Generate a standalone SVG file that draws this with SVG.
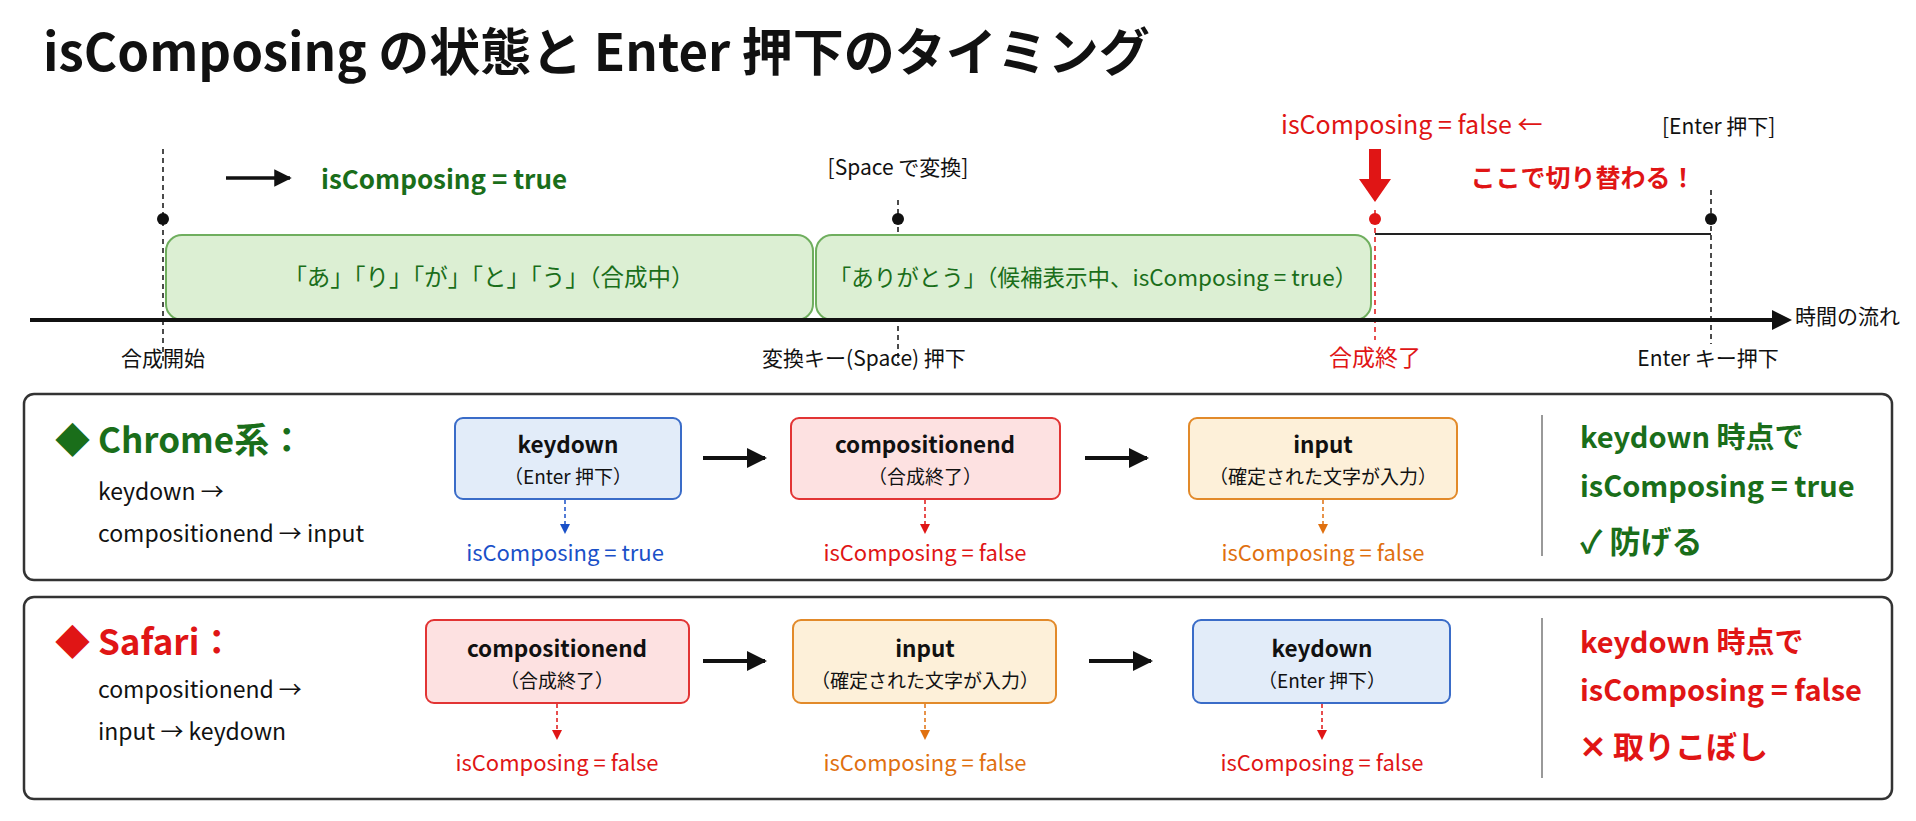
<svg xmlns="http://www.w3.org/2000/svg" width="1916" height="821" viewBox="0 0 1916 821">
<style>
text{font-family:"Noto Sans CJK JP","Noto Sans",sans-serif;}
.t{font-size:21px;fill:#111;}
.lt{font-size:23px;fill:#111;}
.g{fill:#1a6e1a;}
.r{fill:#e01515;}
.b{fill:#1a50c8;}
.o{fill:#e0700f;}
.bold{font-weight:bold;}
.dash{stroke:#111;stroke-width:1.5;stroke-dasharray:5 4;fill:none;}
.seg{fill:#dcefd3;stroke:#6fae5e;stroke-width:2;}
.panel{fill:#fff;stroke:#333;stroke-width:2.5;}
.nb{fill:#e2ecf9;stroke:#3a6cc8;stroke-width:2;}
.nr{fill:#fde1e1;stroke:#e23434;stroke-width:2;}
.no{fill:#fdf0d9;stroke:#e28a2a;stroke-width:2;}
.nt{font-size:22.5px;font-weight:bold;fill:#111;text-anchor:middle;}
.ns{font-size:19px;fill:#111;text-anchor:middle;}
.lab{font-size:22px;text-anchor:middle;}
</style>
<defs>
<marker id="ah" viewBox="0 0 10 10" refX="9" refY="5" markerWidth="5" markerHeight="5" orient="auto"><path d="M0,0L10,5L0,10z" fill="#111"/></marker>
<marker id="ahb" viewBox="0 0 10 10" refX="9" refY="5" markerWidth="7" markerHeight="7" orient="auto"><path d="M0,0L10,5L0,10z" fill="#1a50c8"/></marker>
<marker id="ahr" viewBox="0 0 10 10" refX="9" refY="5" markerWidth="7" markerHeight="7" orient="auto"><path d="M0,0L10,5L0,10z" fill="#e01515"/></marker>
<marker id="aho" viewBox="0 0 10 10" refX="9" refY="5" markerWidth="7" markerHeight="7" orient="auto"><path d="M0,0L10,5L0,10z" fill="#e0700f"/></marker>
</defs>
<rect width="1916" height="821" fill="#fff"/>
<text x="43" y="71" font-size="51" font-weight="bold" fill="#111">isComposing の状態と Enter 押下のタイミング</text>

<g id="timeline">
<path class="dash" d="M163 149V364M898 200V364M1711 190V344"/>
<path d="M1375 210V340" stroke="#e01515" stroke-width="1.5" stroke-dasharray="5 4"/>
<rect id="seg1" class="seg" x="166" y="235" width="647" height="85" rx="16"/>
<rect id="seg2" class="seg" x="816" y="235" width="555" height="85" rx="16"/>
<text x="489" y="286" font-size="23.5" text-anchor="middle" class="g">「あ」「り」「が」「と」「う」（合成中）</text>
<text x="1093" y="286" font-size="22.5" text-anchor="middle" class="g">「ありがとう」（候補表示中、isComposing = true）</text>
<line x1="1375" y1="234" x2="1711" y2="234" stroke="#222" stroke-width="2"/>
<line x1="30" y1="320" x2="1782" y2="320" stroke="#111" stroke-width="4"/>
<path d="M1772 310L1792 320L1772 330z" fill="#111"/>
<circle cx="163" cy="219" r="6" fill="#111"/>
<circle cx="898" cy="219" r="6" fill="#111"/>
<circle cx="1375" cy="219" r="6" fill="#e01515"/>
<circle cx="1711" cy="219" r="6" fill="#111"/>
<text x="1795" y="324" class="t">時間の流れ</text>
<text x="163" y="366" class="t" text-anchor="middle">合成開始</text>
<text x="864" y="366" class="t" text-anchor="middle">変換キー(Space) 押下</text>
<text x="1375" y="366" font-size="23" class="r" text-anchor="middle">合成終了</text>
<text x="1708" y="366" class="t" text-anchor="middle">Enter キー押下</text>
<text x="898" y="175" class="t" text-anchor="middle">[Space で変換]</text>
<line x1="226" y1="178" x2="290" y2="178" stroke="#111" stroke-width="3.5" marker-end="url(#ah)"/>
<text x="321" y="189" font-size="26" class="g bold">isComposing = true</text>
<text x="1281" y="134" font-size="25" class="r">isComposing = false ←</text>
<text x="1662" y="134" class="t">[Enter 押下]</text>
<path d="M1369 149h12v30h10l-16 23l-16-23h10z" fill="#e01515"/>
<text x="1583" y="187" font-size="25" class="r bold" text-anchor="middle">ここで切り替わる！</text>
</g>

<g id="chrome">
<rect class="panel" x="24" y="394" width="1868" height="186" rx="10"/>
<text x="55" y="453" font-size="35" class="g bold">◆ Chrome系：</text>
<text x="98" y="500" class="lt">keydown →</text>
<text x="98" y="542" class="lt">compositionend → input</text>
<line x1="1542" y1="415" x2="1542" y2="556" stroke="#999" stroke-width="2"/>
<text x="1580" y="448" font-size="29" class="g bold">keydown 時点で</text>
<text x="1580" y="497" font-size="29" class="g bold">isComposing = true</text>
<text x="1580" y="553" font-size="31" class="g bold">✓  防げる</text>
</g>
<g id="c1"><rect class="nb" x="455" y="418" width="226" height="81" rx="8"/><text class="nt" x="568" y="453">keydown</text><text class="ns" x="568" y="484">（Enter 押下）</text></g>
<g id="c2"><rect class="nr" x="791" y="418" width="269" height="81" rx="8"/><text class="nt" x="925" y="453">compositionend</text><text class="ns" x="925" y="484">（合成終了）</text></g>
<g id="c3"><rect class="no" x="1189" y="418" width="268" height="81" rx="8"/><text class="nt" x="1323" y="453">input</text><text class="ns" x="1323" y="484">（確定された文字が入力）</text></g>
<text class="lab b" x="565" y="561">isComposing = true</text>
<text class="lab r" x="925" y="561">isComposing = false</text>
<text class="lab o" x="1323" y="561">isComposing = false</text>

<g id="safari">
<rect class="panel" x="24" y="597" width="1868" height="202" rx="10"/>
<text x="55" y="655" font-size="35" class="r bold">◆ Safari：</text>
<text x="98" y="698" class="lt">compositionend →</text>
<text x="98" y="740" class="lt">input → keydown</text>
<line x1="1542" y1="618" x2="1542" y2="778" stroke="#999" stroke-width="2"/>
<text x="1580" y="653" font-size="29" class="r bold">keydown 時点で</text>
<text x="1580" y="701" font-size="29" class="r bold">isComposing = false</text>
<text x="1580" y="758" font-size="31" class="r bold">✕  取りこぼし</text>
</g>
<g id="s1"><rect class="nr" x="426" y="620" width="263" height="83" rx="8"/><text class="nt" x="557" y="657">compositionend</text><text class="ns" x="557" y="688">（合成終了）</text></g>
<g id="s2"><rect class="no" x="793" y="620" width="263" height="83" rx="8"/><text class="nt" x="925" y="657">input</text><text class="ns" x="925" y="688">（確定された文字が入力）</text></g>
<g id="s3"><rect class="nb" x="1193" y="620" width="257" height="83" rx="8"/><text class="nt" x="1322" y="657">keydown</text><text class="ns" x="1322" y="688">（Enter 押下）</text></g>
<text class="lab r" x="557" y="771">isComposing = false</text>
<text class="lab o" x="925" y="771">isComposing = false</text>
<text class="lab r" x="1322" y="771">isComposing = false</text>

<g id="connectors">
<line x1="703" y1="458" x2="765" y2="458" stroke="#111" stroke-width="4" marker-end="url(#ah)"/>
<line x1="1085" y1="458" x2="1147" y2="458" stroke="#111" stroke-width="4" marker-end="url(#ah)"/>
<line x1="703" y1="661" x2="765" y2="661" stroke="#111" stroke-width="4" marker-end="url(#ah)"/>
<line x1="1089" y1="661" x2="1151" y2="661" stroke="#111" stroke-width="4" marker-end="url(#ah)"/>
<line x1="565" y1="500" x2="565" y2="533" stroke="#1a50c8" stroke-width="1.5" stroke-dasharray="4 3" marker-end="url(#ahb)"/>
<line x1="925" y1="500" x2="925" y2="533" stroke="#e01515" stroke-width="1.5" stroke-dasharray="4 3" marker-end="url(#ahr)"/>
<line x1="1323" y1="500" x2="1323" y2="533" stroke="#e0700f" stroke-width="1.5" stroke-dasharray="4 3" marker-end="url(#aho)"/>
<line x1="557" y1="704" x2="557" y2="739" stroke="#e01515" stroke-width="1.5" stroke-dasharray="4 3" marker-end="url(#ahr)"/>
<line x1="925" y1="704" x2="925" y2="739" stroke="#e0700f" stroke-width="1.5" stroke-dasharray="4 3" marker-end="url(#aho)"/>
<line x1="1322" y1="704" x2="1322" y2="739" stroke="#e01515" stroke-width="1.5" stroke-dasharray="4 3" marker-end="url(#ahr)"/>
</g>
</svg>
